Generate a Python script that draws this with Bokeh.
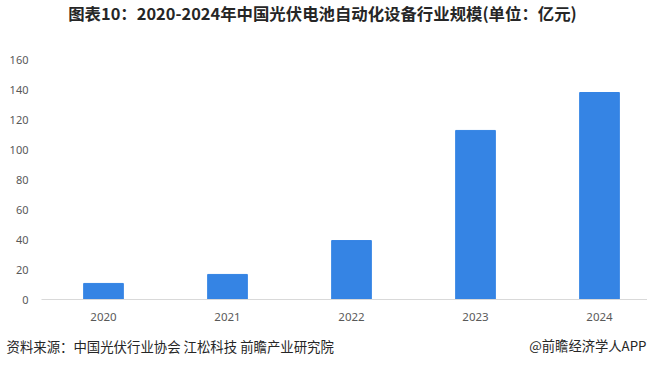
from bokeh.plotting import figure
from bokeh.layouts import column
from bokeh.models import Range1d, FixedTicker
from bokeh.embed import file_html
from bokeh.resources import INLINE
from bokeh.core.properties import value

years = ["2020", "2021", "2022", "2023", "2024"]
values = [10.7, 16.7, 39.3, 112.7, 138.0]
y_ticks = [0, 20, 40, 60, 80, 100, 120, 140, 160]

title_text = "图表10：2020-2024年中国光伏电池自动化设备行业规模(单位：亿元)"
source_text = "资料来源：中国光伏行业协会 江松科技 前瞻产业研究院"
brand_text = "@前瞻经济学人APP"

xs = list(range(len(years)))


def text_strip(height):
    s = figure(width=647, height=height, output_backend="svg", toolbar_location=None,
               x_range=Range1d(0, 647), y_range=Range1d(0, height),
               min_border=0, x_axis_type=None, y_axis_type=None)
    s.xgrid.visible = False
    s.ygrid.visible = False
    s.outline_line_color = None
    s.frame_align = False
    return s


# header with title
h = text_strip(30)
h.text(x=[322], y=[18], text=[title_text], text_font=value("Noto Sans CJK SC"),
       text_font_size="16.4px", text_font_style="bold", text_color="#262626",
       text_baseline="middle", text_align="center")

# main chart
p = figure(width=647, height=300, output_backend="svg", toolbar_location=None,
           x_range=Range1d(-0.5, 4.387), y_range=Range1d(0, 160),
           min_border_left=41, min_border_right=0, min_border_top=29, min_border_bottom=31)
p.frame_align = False

p.vbar(x=xs, top=values, width=0.32, color="#3584E4")

p.xgrid.visible = False
p.ygrid.visible = False
p.outline_line_color = None

p.xaxis.ticker = FixedTicker(ticks=xs)
p.xaxis.major_label_overrides = {i: y for i, y in enumerate(years)}
p.xaxis.axis_line_color = "#D9D9D9"
p.xaxis.major_tick_line_color = None
p.xaxis.minor_tick_line_color = None
p.xaxis.major_label_text_font = "Noto Sans"
p.xaxis.major_label_text_font_size = "11.5px"
p.xaxis.major_label_text_color = "#595959"
p.xaxis.major_label_standoff = 7

p.yaxis.ticker = FixedTicker(ticks=y_ticks)
p.yaxis.axis_line_color = None
p.yaxis.major_tick_line_color = None
p.yaxis.minor_tick_line_color = None
p.yaxis.major_label_text_font = "Noto Sans"
p.yaxis.major_label_text_font_size = "11px"
p.yaxis.major_label_text_color = "#595959"
p.yaxis.major_label_standoff = 7

# footer with source and brand
f = text_strip(30)
f.text(x=[6], y=[15], text=[source_text], text_font=value("Noto Sans CJK SC"),
       text_font_size="13.4px", text_color="#262626", text_baseline="middle", text_align="left")
f.text(x=[646], y=[15], text=[brand_text], text_font=value("Noto Sans CJK SC"),
       text_font_size="13.3px", text_color="#262626", text_baseline="middle", text_align="right")

layout = column(h, p, f, spacing=0)
open("out.html", "w").write(file_html(layout, INLINE))
